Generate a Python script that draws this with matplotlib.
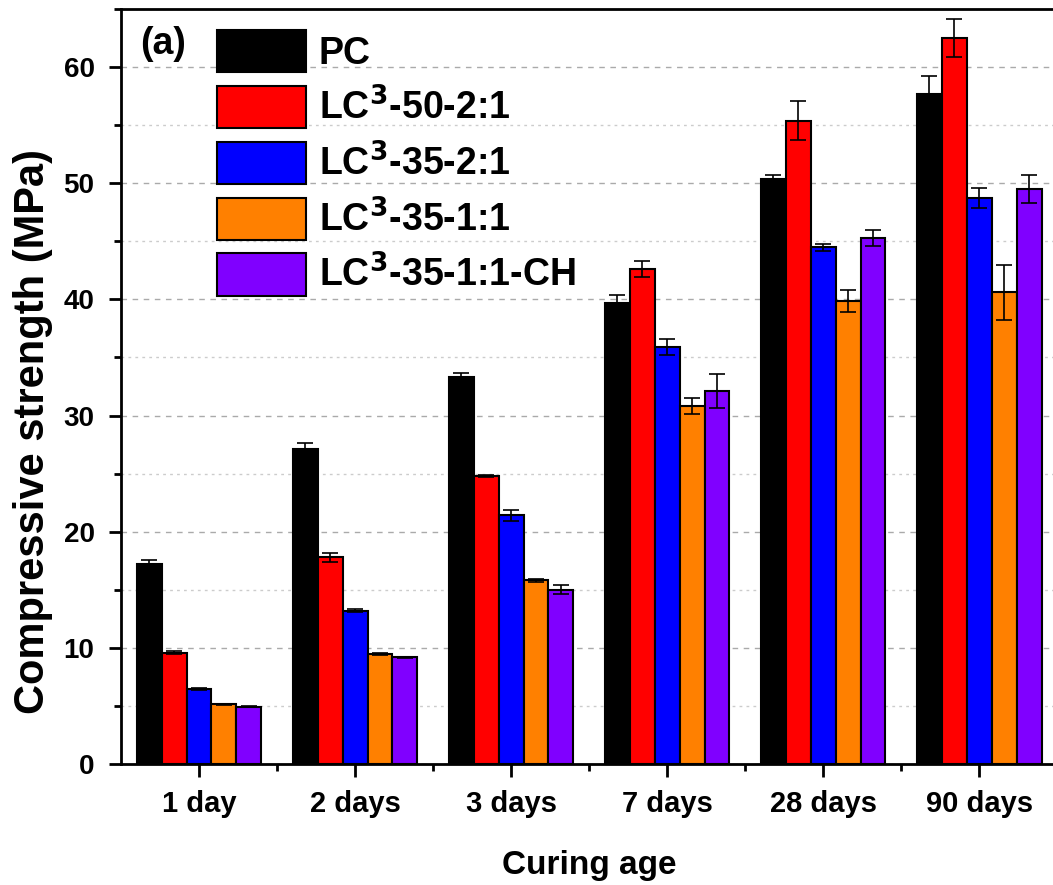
import numpy as np
import matplotlib.pyplot as plt
from matplotlib.ticker import MultipleLocator

plt.rcParams['font.family'] = ['Liberation Sans', 'DejaVu Sans']
plt.rcParams['font.weight'] = 'bold'

# Donnees
ages = ['1 day', '2 days', '3 days', '7 days', '28 days', '90 days']
melanges = ['PC', 'LC$^3$-50-2:1', 'LC$^3$-35-2:1', 'LC$^3$-35-1:1', 'LC$^3$-35-1:1-CH']
couleurs = ['#000000', '#ff0000', '#0000ff', '#ff8000', '#8000ff']

pc = [17.2, 27.1, 33.3, 39.7, 50.4, 57.7]
lc50_21 = [9.6, 17.8, 24.8, 42.6, 55.4, 62.5]
lc35_21 = [6.45, 13.2, 21.4, 35.9, 44.5, 48.7]
lc35_11 = [5.15, 9.5, 15.8, 30.8, 39.9, 40.6]
lc35_11_ch = [4.95, 9.2, 15.0, 32.1, 45.3, 49.5]

err_pc = [0.4, 0.5, 0.4, 0.7, 0.35, 1.5]
err_lc50_21 = [0.1, 0.4, 0.1, 0.7, 1.7, 1.65]
err_lc35_21 = [0.1, 0.15, 0.5, 0.7, 0.3, 0.85]
err_lc35_11 = [0.05, 0.1, 0.1, 0.7, 0.95, 2.4]
err_lc35_11_ch = [0.05, 0.05, 0.4, 1.45, 0.7, 1.2]

valeurs = [pc, lc50_21, lc35_21, lc35_11, lc35_11_ch]
erreurs = [err_pc, err_lc50_21, err_lc35_21, err_lc35_11, err_lc35_11_ch]

fig = plt.figure(figsize=(10.53, 8.85), dpi=100)
ax = fig.add_axes([0.1149, 0.1367, 0.889, 0.8531])

x = np.arange(len(ages))
w = 0.16
for i, (vals, errs) in enumerate(zip(valeurs, erreurs)):
    pos = x + (i - 2) * w
    ax.bar(pos, vals, width=w, color=couleurs[i], edgecolor='black',
           linewidth=1.5, label=melanges[i], zorder=2)
    ax.errorbar(pos, vals, yerr=errs, fmt='none', ecolor='black',
                elinewidth=1.2, capsize=5.5, capthick=1.2, zorder=3)

ax.set_xlim(-0.5, 5.5)
ax.set_ylim(0, 65.0)
ax.set_xticks(x)
ax.set_xticklabels(ages)
ax.set_xticks(x[:-1] + 0.5, minor=True)
ax.yaxis.set_major_locator(MultipleLocator(10))
ax.yaxis.set_minor_locator(MultipleLocator(5))

ax.grid(axis='y', which='major', linestyle=(0, (4, 4)), color='#aaaaaa', linewidth=1.0, zorder=0)
ax.grid(axis='y', which='minor', linestyle=(0, (2, 3)), color='#cccccc', linewidth=1.0, zorder=0)
ax.set_axisbelow(True)

ax.tick_params(axis='both', which='major', direction='out', length=9, width=2,
               top=False, right=False)
ax.tick_params(axis='both', which='minor', direction='out', length=5, width=2,
               top=False, right=False)
ax.tick_params(axis='x', which='major', labelsize=21, pad=10)
ax.tick_params(axis='y', which='major', labelsize=20, pad=10)
for t in ax.get_xticklabels() + ax.get_yticklabels():
    t.set_fontweight('bold')
for s in ax.spines.values():
    s.set_linewidth(2)

ax.set_xlabel('Curing age', fontsize=24, fontweight='bold')
ax.xaxis.set_label_coords(0.5005, -0.1136)
fig.text(33 / 1053, 1 - 432 / 885, 'Compressive strength (MPa)', rotation=90,
         fontsize=30, fontweight='bold', ha='center', va='center')

ax.text(0.02, 0.978, '(a)', transform=ax.transAxes, fontsize=27, fontweight='bold',
        va='top', ha='left')

leg = ax.legend(loc='upper left', bbox_to_anchor=(0.087, 0.992), frameon=False,
                prop={'size': 27, 'weight': 'bold'}, handlelength=2.35,
                handleheight=1.36, handletextpad=0.35, labelspacing=0.36,
                borderaxespad=0)
for p in leg.get_patches():
    p.set_linewidth(1.5)

fig.savefig('out.png', dpi=100)
